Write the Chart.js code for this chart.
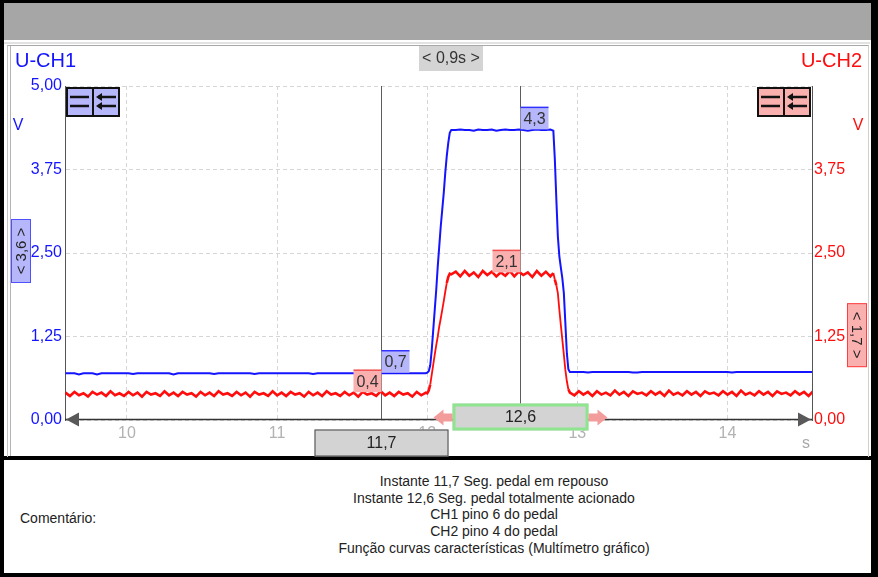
<!DOCTYPE html>
<html>
<head>
<meta charset="utf-8">
<script src="https://cdn.jsdelivr.net/npm/chart.js@4.4.1/dist/chart.umd.min.js"></script>
<style>
  html,body{margin:0;padding:0;}
  body{width:878px;height:577px;background:#000;position:relative;overflow:hidden;font-family:'Liberation Sans',Arial,sans-serif;}
  #header{position:absolute;left:4px;top:3px;width:867px;height:37px;background:#a6a6a6;}
  #panel{position:absolute;left:4px;top:40px;width:867px;height:416px;background:#fff;}
  #panel .f1{position:absolute;left:0;top:2px;width:866px;height:412px;border-top:2px solid #e2e2e2;}
  #panel .f2{position:absolute;left:3px;top:5px;width:860px;height:411px;border-left:1px solid #c4c4c4;border-top:1px solid #a8a8a8;border-right:1px solid #d0d0d0;}
  #panel .f3{position:absolute;left:6px;top:6px;width:855px;height:410px;border-left:1px solid #b4b4b4;}
  #comment{position:absolute;left:4px;top:460px;width:867px;height:113px;background:#fff;font-size:14px;color:#222;}
  #comment .lbl{position:absolute;left:16px;top:50px;line-height:16.7px;}
  #comment .txt{position:absolute;left:116px;width:748px;top:13px;text-align:center;line-height:16.7px;}
  canvas{position:absolute;left:0;top:0;}
</style>
</head>
<body>
<div id="header"></div>
<div id="panel"><div class="f1"></div><div class="f2"></div><div class="f3"></div></div>
<div id="comment">
  <div class="lbl">Comentário:</div>
  <div class="txt">Instante 11,7 Seg. pedal em repouso<br>Instante 12,6 Seg. pedal totalmente acionado<br>CH1 pino 6 do pedal<br>CH2 pino 4 do pedal<br>Função curvas características (Multímetro gráfico)</div>
</div>
<canvas id="c" width="878" height="577"></canvas>
<script>
// ---------------- DATA ----------------
const channelNames = ['U-CH1', 'U-CH2'];
const yTicks = [0, 1.25, 2.5, 3.75, 5];
const xTicks = [10, 11, 12, 13, 14];
const timeUnit = 's';
const voltUnit = 'V';

const times = [
  9.59,9.62,9.65,9.68,9.71,9.74,9.77,9.80,9.83,9.86,
  9.89,9.92,9.95,9.98,10.01,10.04,10.07,10.10,10.13,10.16,
  10.19,10.22,10.25,10.28,10.31,10.34,10.37,10.40,10.43,10.46,
  10.49,10.52,10.55,10.58,10.61,10.64,10.67,10.70,10.73,10.76,
  10.79,10.82,10.85,10.88,10.91,10.94,10.97,11.00,11.03,11.06,
  11.09,11.12,11.15,11.18,11.21,11.24,11.27,11.30,11.33,11.36,
  11.39,11.42,11.45,11.48,11.51,11.54,11.57,11.60,11.63,11.66,
  11.69,11.72,11.75,11.78,11.81,11.84,11.87,11.90,11.93,11.96,
  11.99,
  12.00,12.01,12.02,12.03,12.04,12.05,12.06,12.07,12.08,12.09,12.10,12.11,12.12,12.13,12.14,12.15,12.16,
  12.19,12.22,12.25,12.28,12.31,12.34,12.37,12.40,12.43,12.46,12.49,12.52,12.55,12.58,12.61,12.64,12.67,12.70,12.73,12.76,12.79,12.82,
  12.84,12.85,12.86,12.87,12.88,12.89,12.90,12.91,12.92,12.93,12.94,12.95,
  12.98,13.01,13.04,13.07,13.10,13.13,13.16,13.19,13.22,13.25,
  13.28,13.31,13.34,13.37,13.40,13.43,13.46,13.49,13.52,13.55,
  13.58,13.61,13.64,13.67,13.70,13.73,13.76,13.79,13.82,13.85,
  13.88,13.91,13.94,13.97,14.00,14.03,14.06,14.09,14.12,14.15,
  14.18,14.21,14.24,14.27,14.30,14.33,14.36,14.39,14.42,14.45,
  14.48,14.51,14.54,14.57
];

const ch1Volts = [
  0.70,0.70,0.70,0.68,0.70,0.70,0.70,0.68,0.70,0.70,
  0.70,0.70,0.70,0.70,0.70,0.69,0.70,0.70,0.70,0.70,
  0.70,0.70,0.70,0.70,0.68,0.70,0.70,0.70,0.70,0.70,
  0.70,0.70,0.70,0.69,0.70,0.70,0.70,0.70,0.70,0.70,
  0.70,0.70,0.69,0.70,0.70,0.70,0.70,0.70,0.70,0.70,
  0.70,0.70,0.70,0.70,0.70,0.69,0.70,0.70,0.70,0.70,
  0.70,0.70,0.70,0.70,0.70,0.70,0.70,0.69,0.70,0.70,
  0.70,0.70,0.70,0.70,0.70,0.70,0.70,0.70,0.70,0.70,
  0.70,
  0.71,0.73,0.82,1.05,1.35,1.65,1.95,2.30,2.60,2.90,3.15,3.40,3.70,3.95,4.15,4.30,4.34,
  4.34,4.35,4.34,4.34,4.33,4.35,4.34,4.34,4.35,4.33,4.34,4.35,4.34,4.34,4.35,4.34,4.33,4.34,4.35,4.34,4.34,4.35,
  4.33,3.90,3.30,2.75,2.45,2.28,2.12,1.90,1.45,1.00,0.76,0.72,
  0.72,0.72,0.72,0.71,0.72,0.72,0.72,0.72,0.72,0.72,
  0.72,0.72,0.72,0.71,0.71,0.72,0.72,0.72,0.72,0.72,
  0.72,0.72,0.72,0.72,0.72,0.72,0.72,0.72,0.72,0.72,
  0.72,0.72,0.72,0.72,0.72,0.71,0.72,0.72,0.72,0.72,
  0.72,0.72,0.72,0.72,0.72,0.72,0.72,0.72,0.72,0.72,
  0.72,0.72,0.72,0.72
];

const ch2Volts = [
  0.41,0.36,0.42,0.37,0.40,0.35,0.42,0.38,0.41,0.36,
  0.43,0.37,0.40,0.36,0.42,0.37,0.41,0.35,0.42,0.38,
  0.40,0.36,0.43,0.37,0.41,0.36,0.42,0.38,0.40,0.35,
  0.42,0.37,0.41,0.36,0.43,0.38,0.40,0.36,0.42,0.37,
  0.41,0.35,0.42,0.38,0.40,0.36,0.43,0.37,0.41,0.36,
  0.42,0.38,0.40,0.35,0.42,0.37,0.41,0.36,0.43,0.38,
  0.40,0.36,0.42,0.37,0.41,0.35,0.42,0.38,0.40,0.36,
  0.43,0.37,0.41,0.36,0.42,0.38,0.40,0.35,0.42,0.37,
  0.41,
  0.40,0.44,0.53,0.68,0.83,0.98,1.12,1.25,1.40,1.52,1.65,1.78,1.92,2.05,2.14,2.19,2.18,
  2.22,2.15,2.23,2.16,2.21,2.14,2.23,2.17,2.22,2.15,2.21,2.16,2.23,2.15,2.22,2.17,2.21,2.14,2.23,2.16,2.22,2.15,
  2.20,2.10,2.02,1.90,1.65,1.42,1.20,0.98,0.75,0.58,0.46,0.41,
  0.37,0.43,0.38,0.42,0.36,0.43,0.38,0.41,0.37,0.44,
  0.38,0.42,0.36,0.43,0.39,0.41,0.37,0.43,0.38,0.42,
  0.36,0.44,0.38,0.41,0.37,0.43,0.38,0.42,0.36,0.43,
  0.39,0.41,0.37,0.43,0.38,0.42,0.36,0.44,0.38,0.41,
  0.37,0.43,0.38,0.42,0.36,0.43,0.39,0.41,0.37,0.43,
  0.38,0.42,0.36,0.43
];

// cursors (time in s) and the readings shown at each cursor
const cursorTimes = [11.69, 12.62];
const ch1Readings = [0.7, 4.3];
const ch2Readings = [0.4, 2.1];
const scaleReadings = ['3,6', '1,7'];

// ---------------- RENDER ----------------
const FONT = "'Liberation Sans', Arial, sans-serif";
Chart.defaults.font.family = FONT;
const BLUE = '#1414ff', RED = '#ff0d0d';
const BLUE_FILL = '#b6b6fb', RED_FILL = '#fbb0b0';
const comma = (v, d) => v.toFixed(d).replace('.', ',');

function anchorValue(series, t) {
  let s = 0, n = 0;
  times.forEach((tt, i) => { if (Math.abs(tt - t) <= 0.05) { s += series[i]; n++; } });
  return n ? s / n : series[0];
}

function box(ctx, x, y, w, h, fill, stroke, lw) {
  ctx.fillStyle = fill; ctx.fillRect(x, y, w, h);
  if (stroke) { ctx.strokeStyle = stroke; ctx.lineWidth = lw || 1; ctx.strokeRect(x + (lw||1)/2, y + (lw||1)/2, w - (lw||1), h - (lw||1)); }
}
function text(ctx, s, x, y, color, size, align) {
  ctx.fillStyle = color; ctx.font = size + 'px ' + FONT;
  ctx.textAlign = align || 'center'; ctx.textBaseline = 'middle';
  ctx.fillText(s, x, y);
}
function icons(ctx, x, y, fill) {
  const w = 27, h = 30;
  for (let k = 0; k < 2; k++) box(ctx, x + k * w, y, w, h, fill);
  ctx.strokeStyle = '#111'; ctx.lineWidth = 2;
  ctx.strokeRect(x + 1, y + 1, w * 2 - 2, h - 2);
  ctx.beginPath(); ctx.moveTo(x + w, y); ctx.lineTo(x + w, y + h); ctx.stroke();
  ctx.lineWidth = 2.5;
  [10, 19].forEach(dy => {
    ctx.beginPath(); ctx.moveTo(x + 4, y + dy); ctx.lineTo(x + w - 4, y + dy); ctx.stroke();
    ctx.beginPath(); ctx.moveTo(x + w + 5, y + dy); ctx.lineTo(x + 2 * w - 4, y + dy); ctx.stroke();
    ctx.fillStyle = '#111';
    ctx.beginPath(); ctx.moveTo(x + w + 3, y + dy); ctx.lineTo(x + w + 9, y + dy - 4); ctx.lineTo(x + w + 9, y + dy + 4); ctx.closePath(); ctx.fill();
  });
}
function pinkArrow(ctx, xTip, yc, dir) {
  ctx.fillStyle = '#f39c9c';
  ctx.beginPath();
  ctx.moveTo(xTip, yc);
  ctx.lineTo(xTip + dir * 10, yc - 8);
  ctx.lineTo(xTip + dir * 10, yc - 4);
  ctx.lineTo(xTip + dir * 19, yc - 4);
  ctx.lineTo(xTip + dir * 19, yc + 4);
  ctx.lineTo(xTip + dir * 10, yc + 4);
  ctx.lineTo(xTip + dir * 10, yc + 8);
  ctx.closePath(); ctx.fill();
}

const overlay = {
  id: 'overlay',
  beforeDatasetsDraw(chart) {
    const { ctx, chartArea: a, scales: { x } } = chart;
    ctx.save(); ctx.strokeStyle = '#5c5c5c'; ctx.lineWidth = 1;
    cursorTimes.forEach(t => {
      const px = Math.round(x.getPixelForValue(t)) + 0.5;
      ctx.beginPath(); ctx.moveTo(px, a.top); ctx.lineTo(px, a.bottom); ctx.stroke();
    });
    ctx.restore();
  },
  afterDraw(chart) {
    const { ctx, chartArea: a, scales: { x, y, y2 } } = chart;
    ctx.save();
    // x axis line with arrows
    const y0 = Math.round(y.getPixelForValue(0)) - 0.5;
    ctx.strokeStyle = '#333'; ctx.lineWidth = 1.5;
    ctx.beginPath(); ctx.moveTo(a.left, y0); ctx.lineTo(a.right, y0); ctx.stroke();
    ctx.fillStyle = '#595959';
    ctx.beginPath(); ctx.moveTo(a.left + 1, y0); ctx.lineTo(a.left + 14, y0 - 7); ctx.lineTo(a.left + 14, y0 + 7); ctx.closePath(); ctx.fill();
    ctx.beginPath(); ctx.moveTo(a.right - 1, y0); ctx.lineTo(a.right - 14, y0 - 7); ctx.lineTo(a.right - 14, y0 + 7); ctx.closePath(); ctx.fill();

    // channel titles, units
    text(ctx, channelNames[0], 15, 61, BLUE, 20, 'left');
    text(ctx, channelNames[1], 862, 61, RED, 20, 'right');
    text(ctx, voltUnit, a.left - 47, y.getPixelForValue(4.4), BLUE, 16);
    text(ctx, voltUnit, a.right + 46, y.getPixelForValue(4.4), RED, 16);
    text(ctx, timeUnit, a.right - 6, y0 + 24, '#a8a8a8', 16);

    // icons
    icons(ctx, a.left + 1, a.top + 1, BLUE_FILL);
    icons(ctx, a.right - 55, a.top + 1, RED_FILL);

    // vertical scale boxes
    ctx.save();
    ctx.translate(a.left - 44, y.getPixelForValue(2.5) - 2);
    ctx.rotate(-Math.PI / 2);
    box(ctx, -32, -10, 64, 20, BLUE_FILL, '#5050ff', 1);
    text(ctx, '< ' + scaleReadings[0] + ' >', 0, 1, '#222', 15);
    ctx.restore();
    ctx.save();
    ctx.translate(a.right + 45, y2.getPixelForValue(1.27));
    ctx.rotate(Math.PI / 2);
    box(ctx, -32, -10, 64, 20, RED_FILL, '#ff4040', 1);
    text(ctx, '< ' + scaleReadings[1] + ' >', 0, 1, '#222', 15);
    ctx.restore();

    // cursor readings
    const cx = cursorTimes.map(t => Math.round(x.getPixelForValue(t)) + 0.5);
    cursorTimes.forEach((t, i) => {
      const yb = y.getPixelForValue(anchorValue(ch1Volts, t)) - 0.5;
      box(ctx, cx[i], yb - 22, 28, 22, BLUE_FILL);
      ctx.strokeStyle = '#3232ff'; ctx.lineWidth = 1.5;
      ctx.beginPath(); ctx.moveTo(cx[i], yb - 22); ctx.lineTo(cx[i] + 28, yb - 22); ctx.stroke();
      text(ctx, comma(ch1Readings[i], 1), cx[i] + 14, yb - 10, '#333', 16);
      const yr = y2.getPixelForValue(anchorValue(ch2Volts, t)) - 2;
      box(ctx, cx[i] - 28, yr - 22, 28, 22, RED_FILL);
      ctx.strokeStyle = '#f05050'; ctx.lineWidth = 1.5;
      ctx.beginPath(); ctx.moveTo(cx[i] - 28, yr - 22); ctx.lineTo(cx[i], yr - 22); ctx.stroke();
      text(ctx, comma(ch2Readings[i], 1), cx[i] - 14, yr - 10, '#333', 16);
    });

    // cursor time boxes
    box(ctx, cx[0] - 67, y0 + 10, 134, 27, '#d3d3d3', '#474747', 1);
    text(ctx, comma(cursorTimes[0], 1), cx[0], y0 + 24, '#222', 16);
    box(ctx, cx[1] - 68, y0 - 16, 136, 27, '#d3d3d3', '#8fe58f', 3);
    text(ctx, comma(cursorTimes[1], 1), cx[1], y0 - 2, '#222', 16);
    pinkArrow(ctx, cx[1] - 87, y0 - 2, 1);
    pinkArrow(ctx, cx[1] + 87, y0 - 2, -1);

    // delta box
    const mid = (cx[0] + cx[1]) / 2;
    box(ctx, mid - 32, 46, 64, 25, '#d4d4d4');
    text(ctx, '< ' + comma(cursorTimes[1] - cursorTimes[0], 1) + 's >', mid, 58.5, '#333', 16);
    ctx.restore();
  }
};

const grid = { color: '#d6d6d6', lineWidth: 1, drawTicks: false };
// thicker stroke on the flat noisy stretches, thinner on the steep edges
const redWidth = c => (Math.abs(c.p1.parsed.y - c.p0.parsed.y) > 0.1 ? 1.8 : 2.6);

new Chart(document.getElementById('c'), {
  type: 'line',
  data: {
    datasets: [
      { label: channelNames[0], yAxisID: 'y', data: times.map((t, i) => ({ x: t, y: ch1Volts[i] })),
        borderColor: BLUE, borderWidth: 2, pointRadius: 0, tension: 0 },
      { label: channelNames[1], yAxisID: 'y2', data: times.map((t, i) => ({ x: t, y: ch2Volts[i] })),
        borderColor: RED, borderWidth: 2.6, pointRadius: 0, tension: 0,
        segment: { borderWidth: redWidth } }
    ]
  },
  options: {
    responsive: false, animation: false, devicePixelRatio: 1,
    layout: { padding: { left: 0, right: 0, top: 86, bottom: 121 } },
    plugins: { legend: { display: false }, tooltip: { enabled: false } },
    scales: {
      x: {
        type: 'linear', min: 9.587, max: 14.563,
        afterFit(s) { s.height = 36; },
        afterBuildTicks(s) { s.ticks = xTicks.map(v => ({ value: v })); },
        ticks: { color: '#b2b2b2', font: { size: 16 }, padding: 4, maxRotation: 0, autoSkip: false,
                 callback: v => String(v) },
        grid: grid, border: { display: false, dash: [4, 3] }
      },
      y: {
        position: 'left', min: 0, max: 5,
        afterFit(s) { s.width = 65; },
        afterBuildTicks(s) { s.ticks = yTicks.map(v => ({ value: v })); },
        ticks: { color: BLUE, font: { size: 16 }, padding: 3, callback: v => comma(v, 2) },
        grid: grid, border: { display: true, color: '#555', width: 1, dash: [4, 3] }
      },
      y2: {
        position: 'right', min: 0, max: 5,
        afterFit(s) { s.width = 66; },
        afterBuildTicks(s) { s.ticks = yTicks.map(v => ({ value: v })); },
        ticks: { color: RED, font: { size: 16 }, padding: 2, callback: v => (v === 5 ? '' : comma(v, 2)) },
        grid: { display: false, drawTicks: false }, border: { display: true, color: '#555', width: 1 }
      }
    }
  },
  plugins: [overlay]
});
</script>
</body>
</html>
